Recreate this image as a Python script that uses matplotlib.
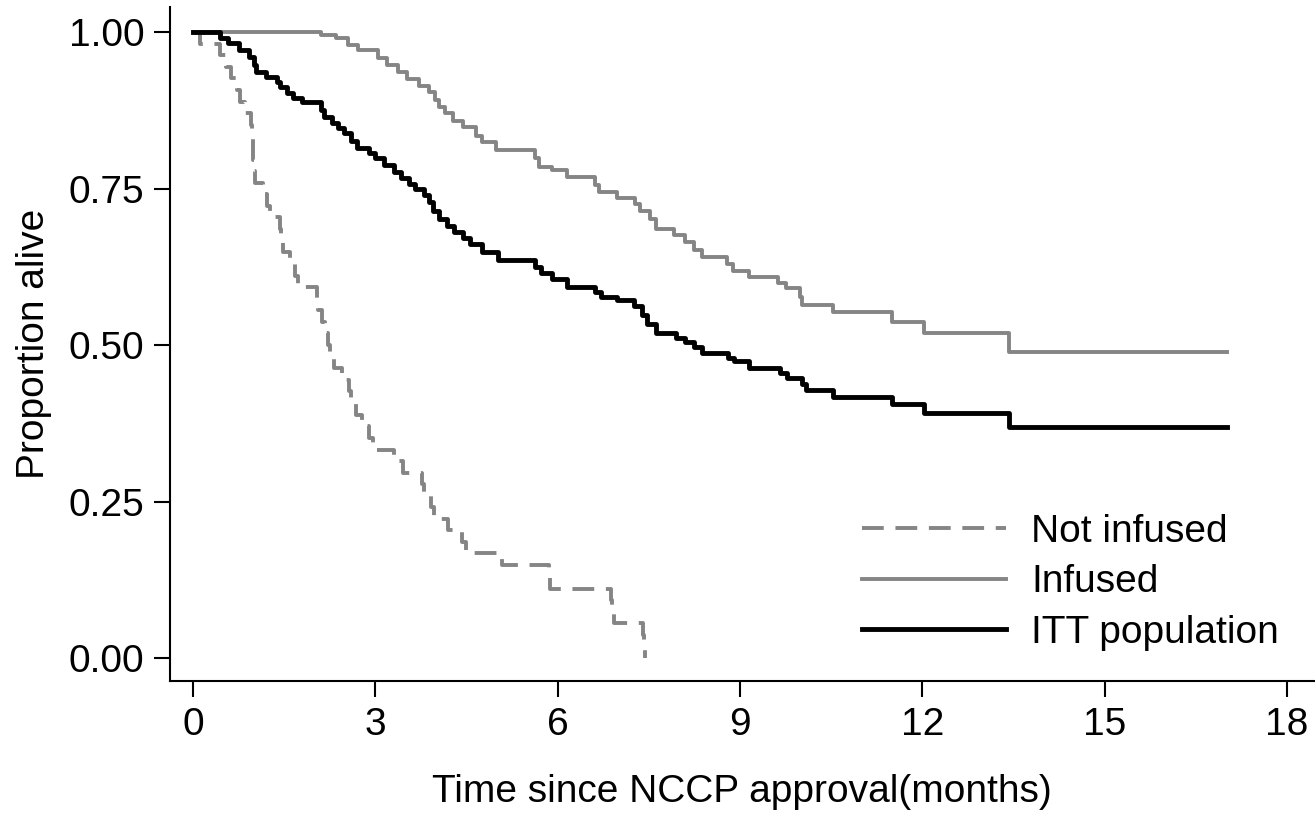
import matplotlib
matplotlib.use("Agg")
import matplotlib.pyplot as plt
from matplotlib.lines import Line2D

plt.rcParams['font.family'] = ['Liberation Sans', 'DejaVu Sans']

# ---- data ----
end_time = 17.02

itt_t = [0, 0.45, 0.58, 0.75, 0.92, 1.00, 1.03, 1.20, 1.38, 1.43, 1.55, 1.65, 1.80, 2.10, 2.15,
         2.28, 2.38, 2.48, 2.60, 2.70, 2.90, 3.00, 3.15, 3.30, 3.42, 3.55, 3.65, 3.80, 3.88,
         3.95, 4.05, 4.18, 4.30, 4.45, 4.55, 4.75, 5.02, 5.62, 5.72, 5.90, 6.15, 6.62, 6.72,
         6.98, 7.25, 7.38, 7.47, 7.62, 7.95, 8.10, 8.25, 8.38, 8.80, 8.90, 9.14, 9.65, 9.78,
         10.02, 10.08, 10.53, 11.50, 12.02, 13.42]
itt_s = [1.0, 0.991, 0.982, 0.972, 0.960, 0.948, 0.936, 0.928, 0.920, 0.912, 0.903, 0.895, 0.888,
         0.876, 0.864, 0.855, 0.847, 0.838, 0.826, 0.815, 0.806, 0.798, 0.788, 0.776, 0.767,
         0.758, 0.750, 0.740, 0.728, 0.714, 0.702, 0.690, 0.680, 0.671, 0.662, 0.648, 0.636,
         0.625, 0.615, 0.605, 0.593, 0.585, 0.577, 0.572, 0.563, 0.548, 0.533, 0.519, 0.512,
         0.505, 0.497, 0.487, 0.480, 0.474, 0.464, 0.455, 0.448, 0.437, 0.428, 0.417, 0.406,
         0.391, 0.369]

inf_t = [0, 2.10, 2.35, 2.55, 2.72, 3.05, 3.20, 3.38, 3.52, 3.72, 3.88, 3.98, 4.05, 4.15, 4.28,
         4.45, 4.65, 4.75, 4.98, 5.62, 5.70, 5.90, 6.15, 6.62, 6.68, 6.98, 7.28, 7.35, 7.52,
         7.62, 7.92, 8.10, 8.25, 8.38, 8.78, 8.88, 9.14, 9.63, 9.75, 9.98, 10.02, 10.53, 11.50,
         12.02, 13.42]
inf_s = [1.0, 0.995, 0.990, 0.980, 0.971, 0.958, 0.947, 0.936, 0.925, 0.914, 0.904, 0.892, 0.880,
         0.870, 0.858, 0.848, 0.834, 0.824, 0.812, 0.798, 0.785, 0.780, 0.768, 0.755, 0.744,
         0.735, 0.725, 0.714, 0.702, 0.686, 0.676, 0.665, 0.652, 0.640, 0.629, 0.619, 0.609,
         0.599, 0.591, 0.577, 0.564, 0.553, 0.537, 0.519, 0.489]

notinf_t = [0, 0.12, 0.45, 0.55, 0.62, 0.72, 0.78, 0.86, 0.95, 0.97, 0.98, 0.99, 1.00, 1.02, 1.15,
            1.22, 1.27, 1.43, 1.45, 1.48, 1.60, 1.68, 1.72, 2.04, 2.06, 2.12, 2.18, 2.22, 2.26,
            2.32, 2.45, 2.57, 2.60, 2.68, 2.78, 2.90, 2.96, 3.30, 3.46, 3.76, 3.80, 3.92, 3.96,
            4.20, 4.42, 4.50, 5.08, 5.85, 5.87, 6.88, 6.90, 6.92, 7.40, 7.42, 7.44]
notinf_s = [1.0, 0.981, 0.963, 0.944, 0.926, 0.907, 0.889, 0.870, 0.852, 0.833, 0.815, 0.796,
            0.778, 0.759, 0.741, 0.722, 0.704, 0.685, 0.667, 0.648, 0.630, 0.611, 0.593, 0.574,
            0.556, 0.537, 0.519, 0.500, 0.481, 0.463, 0.444, 0.426, 0.407, 0.389, 0.370, 0.352,
            0.333, 0.315, 0.296, 0.278, 0.259, 0.241, 0.222, 0.204, 0.185, 0.167, 0.148, 0.130,
            0.111, 0.093, 0.074, 0.056, 0.037, 0.019, 0.0]

x_ticks = [0, 3, 6, 9, 12, 15, 18]
y_ticks = [0.00, 0.25, 0.50, 0.75, 1.00]
y_tick_labels = ["0.00", "0.25", "0.50", "0.75", "1.00"]
labels = ["Not infused", "Infused", "ITT population"]
x_title = "Time since NCCP approval(months)"
y_title = "Proportion alive"

# ---- figure ----
W, H = 1315, 819
fig = plt.figure(figsize=(W / 100, H / 100), dpi=100)
ax = fig.add_axes([170 / W, 1 - 681 / H, 1145 / W, 674 / H])

gray = "#858585"
fs = 28
lw_g = 2.8
lw_k = 3.5
dash = (5.6, 3.0)

ax.step(notinf_t, notinf_s, where="post", color=gray, lw=lw_g, dashes=dash)
ax.step(inf_t + [end_time], inf_s + [inf_s[-1]], where="post", color=gray, lw=lw_g)
ax.step(itt_t + [end_time], itt_s + [itt_s[-1]], where="post", color="black", lw=lw_k)

ax.set_xlim(-0.378, 18.46)
ax.set_ylim(-0.0367, 1.040)
ax.set_xticks(x_ticks)
ax.set_xticklabels([str(v) for v in x_ticks])
ax.set_yticks(y_ticks)
ax.set_yticklabels(y_tick_labels)

for s in ["top", "right"]:
    ax.spines[s].set_visible(False)
for s in ["left", "bottom"]:
    ax.spines[s].set_linewidth(1.5)
ax.tick_params(axis="both", length=11.5, width=1.5, labelsize=fs, pad=7, direction="out")

fig.text(742 / W, 1 - 792 / H, x_title, fontsize=fs, ha="center", va="center")
ax.set_ylabel(y_title, fontsize=fs, labelpad=12)

handles = [
    Line2D([], [], color=gray, lw=lw_g, dashes=dash),
    Line2D([], [], color=gray, lw=lw_g),
    Line2D([], [], color="black", lw=lw_k),
]
ax.legend(handles, labels, loc="upper left", bbox_to_anchor=(862 / W, 1 - 514 / H),
          bbox_transform=fig.transFigure, frameon=False, fontsize=fs, borderpad=0,
          handlelength=3.7, handletextpad=0.65, labelspacing=0.37, borderaxespad=0)

fig.savefig("out.png", dpi=100)
